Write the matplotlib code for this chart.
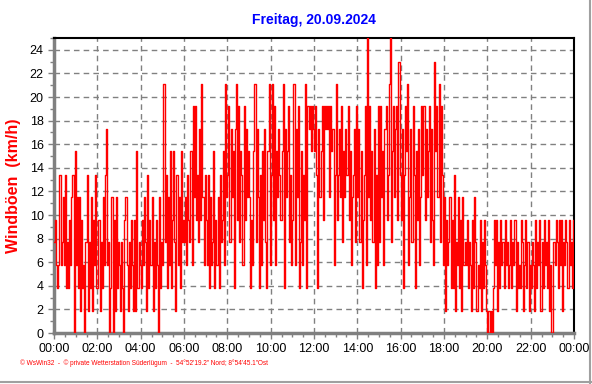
import numpy as np
import matplotlib
matplotlib.use("Agg")
import matplotlib.pyplot as plt
from matplotlib.lines import Line2D

# Windböen, 3-min Werte, als Stufenindex (0..d) pro Stunde
gust_levels = [
    "45323734637242536708",  # 00h
    "36261523047142615372",  # 01h
    "25142637934026051624",  # 02h
    "31420563142531518243",  # 03h
    "25364172536142530624",  # 04h
    "3b472638258417362845",  # 05h
    "46375483a6a57495b637",  # 06h
    "537263482536274583b6",  # 07h
    "7a496829b5a4873a5968",  # 08h
    "62538b496273859428b3",  # 09h
    "7b5a3869758b2968a473",  # 10h
    "5b396a248375b2a9a8a9",  # 11h
    "8a72968a5a9a9a6a8937",  # 12h
    "b5796a48697a5836794a",  # 13h
    "6948257a3d6a5849273a",  # 14h
    "4a6839a57bd48a69a5c7",  # 15h
    "5927a8b3694a7285936a",  # 16h
    "7a5968a4953c8a6b4a73",  # 17h
    "61534625271436251634",  # 18h
    "35243152641325142531",  # 19h
    "01010253514253425342",  # 20h
    "35243514232541352413",  # 21h
    "24315243514253425130",  # 22h
    "04354253514354253425",  # 23h
]
# km/h je Stufe
level_kmh = [0.0, 1.9, 3.8, 5.8, 7.7, 9.6, 11.5, 13.4, 15.4, 17.3, 19.2, 21.1, 23.0, 25.0]

x_ticks = list(range(0, 25, 2))
x_labels = ["00:00", "02:00", "04:00", "06:00", "08:00", "10:00", "12:00",
            "14:00", "16:00", "18:00", "20:00", "22:00", "00:00"]
y_ticks = list(range(0, 25, 2))

title = "Freitag, 20.09.2024"
ylabel = "Windböen  (km/h)"
footer = "© WsWin32  -  © private Wetterstation Süderlügum  -  54°52'19.2\" Nord; 8°54'45.1\"Ost"

# decode
codes = "".join(gust_levels)
gust = np.array([level_kmh[int(c, 16)] for c in codes])
hours = np.arange(len(gust)) * 24.0 / len(gust)
hours = np.append(hours, 24.0)
gust = np.append(gust, gust[-1])

plt.rcParams['font.family'] = ['Liberation Sans', 'DejaVu Sans']

fig = plt.figure(figsize=(5.92, 3.84), dpi=100)
ax = fig.add_axes([54 / 592, 1 - 333 / 384, 520 / 592, 295 / 384])

ax.plot(hours, gust, drawstyle="steps-post", color="#ff0000", lw=1.0, zorder=3)

ax.set_xlim(0, 24)
ax.set_ylim(0, 25)
ax.set_xticks(x_ticks)
ax.set_xticklabels(x_labels, fontsize=9)
ax.set_xticks(np.arange(0, 24.01, 0.5), minor=True)
ax.set_yticks(y_ticks)
ax.set_yticklabels([str(v) for v in y_ticks], fontsize=9)
ax.set_yticks(np.arange(0, 25.01, 1), minor=True)

ax.grid(True, which="major", color="#808080", ls=(0, (4, 3)), lw=1, zorder=1)
ax.tick_params(which="major", length=4, color="#808080", width=1)
ax.tick_params(which="minor", length=3, color="#808080", width=1)

for side in ("left", "bottom"):
    ax.spines[side].set_color("#808080")
    ax.spines[side].set_linewidth(2.5)
for side in ("top", "right"):
    ax.spines[side].set_color("black")
    ax.spines[side].set_linewidth(1.5)

ax.set_ylabel(ylabel, color="#ff0000", fontsize=11.5, fontweight="bold", labelpad=6)
fig.text(314 / 592, 1 - 20 / 384, title, color="#0000ff", fontsize=10,
         fontweight="bold", ha="center", va="center")
fig.text(20 / 592, 1 - 363 / 384, footer, color="#ff0000", fontsize=4.7,
         ha="left", va="center")

# grauer Rahmen rechts/unten
fig.add_artist(Line2D([589.5 / 592, 589.5 / 592], [0, 1], color="#a0a0a0", lw=1.5,
                      transform=fig.transFigure))
fig.add_artist(Line2D([0, 1], [2.5 / 384, 2.5 / 384], color="#a0a0a0", lw=1.5,
                      transform=fig.transFigure))

fig.savefig("out.png", dpi=100)
